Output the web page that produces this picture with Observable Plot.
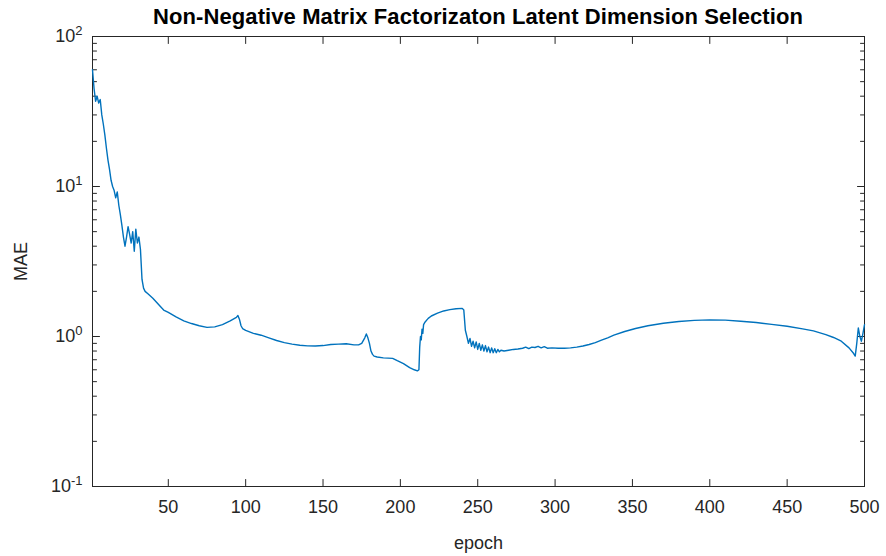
<!DOCTYPE html>
<html>
<head>
<meta charset="utf-8">
<script src="https://cdn.jsdelivr.net/npm/d3@7"></script>
<script src="https://cdn.jsdelivr.net/npm/@observablehq/plot@0.6"></script>
<style>
  html, body { margin: 0; padding: 0; background: #fff; }
  body { width: 886px; height: 556px; overflow: hidden; font-family: "Liberation Sans", Arial, sans-serif; }
  #title { height: 30px; line-height: 34px; padding-left: 70px; text-align: center; font-weight: bold; font-size: 22px; letter-spacing: 0.1px; color: #000; white-space: nowrap; }
  #chart svg { overflow: visible; }
</style>
</head>
<body>
<div id="title">Non-Negative Matrix Factorizaton Latent Dimension Selection</div>
<div id="chart"></div>
<script>
const epochs = [
  1,2,3,4,5,6,7,8,9,10,11,12,13,14,15,16,17,18,19,20,
  21,22,23,24,25,26,27,28,29,30,31,32,33,34,35,37,40,44,47,50,
  55,60,65,70,75,80,85,90,94,95,96,97,98,100,105,110,115,120,125,130,
  135,140,145,150,155,160,165,170,173,175,177,178,179,180,181,182,183,185,189,195,
  198,202,206,209,211,212,212.5,213,213.5,214,214.5,215,216,218,220,224,228,232,236,240,
  241,242,243,244,245,246,247,248,249,250,251,252,253,254,255,256,257,258,259,260,
  261,262,263,264,265,267,270,273,276,279,281,283,285,287,289,291,293,295,298,302,
  306,310,314,318,322,326,330,334,338,345,352,360,370,380,390,400,410,420,430,440,450,460,
  467,475,480,485,490,493,494,495,496,497,498,499,500
];
const mae = [
  60,45,37,40,36,38,30,26,22,18,15,13,11,10,9.4,8.4,9.2,7.5,6.5,5.5,
  4.6,4.0,4.6,5.4,4.8,4.2,5.0,3.7,5.2,4.2,4.6,3.8,2.4,2.1,2.0,1.92,1.8,1.62,1.5,1.45,
  1.35,1.27,1.22,1.18,1.15,1.16,1.2,1.27,1.34,1.38,1.3,1.18,1.13,1.1,1.05,1.02,0.98,0.94,0.91,0.89,
  0.875,0.866,0.865,0.87,0.885,0.89,0.895,0.88,0.88,0.9,0.98,1.04,0.98,0.9,0.8,0.76,0.74,0.73,0.72,0.715,
  0.69,0.66,0.62,0.6,0.59,0.6,0.85,1.0,0.95,1.12,1.05,1.2,1.25,1.32,1.37,1.43,1.48,1.51,1.53,1.54,
  1.5,1.1,1.0,0.9,0.97,0.86,0.93,0.84,0.92,0.82,0.9,0.81,0.88,0.8,0.87,0.79,0.85,0.78,0.84,0.78,
  0.83,0.78,0.82,0.79,0.81,0.8,0.81,0.82,0.825,0.835,0.85,0.83,0.85,0.845,0.86,0.84,0.855,0.835,0.84,0.835,
  0.835,0.84,0.85,0.865,0.885,0.91,0.945,0.98,1.02,1.08,1.13,1.18,1.225,1.26,1.28,1.29,1.285,1.265,1.24,1.205,1.17,1.125,
  1.09,1.03,0.985,0.93,0.84,0.77,0.74,0.9,1.14,1.0,0.93,1.05,1.2
];
const xTicks = [50,100,150,200,250,300,350,400,450,500];
const yMajor = [0.1,1,10,100];
const yMinor = [0.2,0.3,0.4,0.5,0.6,0.7,0.8,0.9,2,3,4,5,6,7,8,9,20,30,40,50,60,70,80,90];
const yLabels = {"0.1": "-1", "1": "0", "10": "1", "100": "2"};

const data = epochs.map((e, i) => ({epoch: e, mae: mae[i]}));
const axisColor = "#262626";
const tickShape = {draw(ctx, l) { ctx.moveTo(0, 0); ctx.lineTo(0, -l); }};
const tickOpts = (len) => ({anchor: "start", length: len, shape: tickShape, stroke: axisColor, strokeWidth: 1});

const chart = Plot.plot({
  width: 886,
  height: 526,
  marginTop: 6,
  marginBottom: 70,
  marginLeft: 92,
  marginRight: 22,
  style: {fontFamily: "Liberation Sans, Arial, sans-serif", fontSize: "18px", color: axisColor, background: "#fff", overflow: "visible"},
  x: {domain: [1, 500]},
  y: {type: "log", domain: [0.1, 100]},
  marks: [
    Plot.frame({stroke: axisColor, strokeWidth: 1}),
    Plot.axisX(xTicks, {tickSize: 0, tickPadding: 14, label: "epoch", labelAnchor: "center", labelOffset: 62, labelArrow: "none", fontSize: 18}),
    Plot.axisY(yMajor, {tickSize: 0, tickPadding: 10, tickFormat: d => "10^" + yLabels[String(d)], label: "MAE", labelAnchor: "center", labelOffset: 78, labelArrow: "none", fontSize: 18}),
    // inward ticks on all four sides
    Plot.vector(xTicks, {x: d => d, frameAnchor: "bottom", rotate: 0, ...tickOpts(7)}),
    Plot.vector(xTicks, {x: d => d, frameAnchor: "top", rotate: 180, ...tickOpts(7)}),
    Plot.vector(yMajor, {y: d => d, frameAnchor: "left", rotate: 90, ...tickOpts(7)}),
    Plot.vector(yMajor, {y: d => d, frameAnchor: "right", rotate: -90, ...tickOpts(7)}),
    Plot.vector(yMinor, {y: d => d, frameAnchor: "left", rotate: 90, ...tickOpts(4)}),
    Plot.vector(yMinor, {y: d => d, frameAnchor: "right", rotate: -90, ...tickOpts(4)}),
    Plot.line(data, {x: "epoch", y: "mae", stroke: "#0072BD", strokeWidth: 1.4, strokeLinejoin: "round"})
  ]
});
document.getElementById("chart").appendChild(chart);

// render exponents as superscripts
chart.querySelectorAll('g[aria-label="y-axis tick label"] text').forEach(t => {
  const s = t.textContent;
  const m = s.match(/^10\^(.*)$/);
  if (m) {
    t.textContent = "10";
    const sup = document.createElementNS("http://www.w3.org/2000/svg", "tspan");
    sup.setAttribute("dy", "-0.55em");
    sup.setAttribute("font-size", "13px");
    sup.textContent = m[1];
    t.appendChild(sup);
  }
});
</script>
</body>
</html>
